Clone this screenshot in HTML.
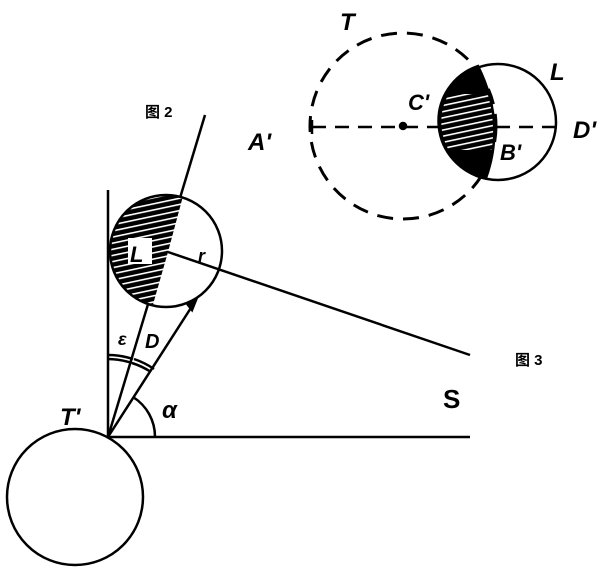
<!DOCTYPE html>
<html><head><style>
body{margin:0;background:#fff;}
svg{display:block}
text{font-family:"Liberation Sans","Noto Sans CJK SC",sans-serif;font-style:italic;font-weight:bold;fill:#000}
.cj{font-style:normal;font-weight:bold}
</style></head><body>
<svg width="607" height="570" viewBox="0 0 607 570" xmlns="http://www.w3.org/2000/svg">
<defs>
<pattern id="h" width="8" height="6" patternUnits="userSpaceOnUse" patternTransform="rotate(-12)">
<rect width="8" height="6" fill="#000"/><rect y="2.5" width="8" height="1.6" fill="#fff"/>
</pattern>
<clipPath id="lc"><circle cx="166" cy="251" r="56"/></clipPath>
<clipPath id="lc2"><path d="M478,66 A58,58 0 0 0 486,178 Q506,122 478,66 Z"/></clipPath>
</defs>
<g stroke="#000" stroke-width="2.5" fill="none">
<!-- fig 2 -->
<circle cx="75" cy="497" r="68"/>
<line x1="108" y1="437" x2="108" y2="190"/>
<line x1="108" y1="437" x2="470" y2="437"/>
<line x1="108" y1="437" x2="205" y2="115"/>
<line x1="108" y1="437" x2="196" y2="300"/>
<line x1="168" y1="252" x2="470" y2="355"/>
<polygon points="108,170 190,170 168,252 140,350 100,350" fill="url(#h)" stroke="none" clip-path="url(#lc)"/>
<rect x="128" y="238" width="24" height="26" fill="#fff" stroke="none"/>
<circle cx="166" cy="251" r="56"/>
<path d="M108,355 A82,82 0 0 1 133,359"/>
<path d="M108,359 A78,78 0 0 1 132,363"/>
<path d="M134,359 A82,82 0 0 1 154,369"/>
<path d="M132,363 A78,78 0 0 1 151,372"/>
<path d="M155,437 A47,47 0 0 0 133,397"/>
<polygon points="196,300 188,305 192,310" fill="#000"/>
<!-- fig 3 -->
<circle cx="403" cy="126" r="93" stroke-dasharray="16,10" stroke-width="3"/>
<line x1="312" y1="127" x2="557" y2="127" stroke-dasharray="14,9"/>
<path d="M478,66 A58,58 0 0 0 486,178 Q506,122 478,66 Z" fill="url(#h)"/>
<g clip-path="url(#lc2)" stroke="none" fill="#000">
<rect x="430" y="60" width="80" height="34"/>
<rect x="430" y="150" width="80" height="35"/>
</g>
<circle cx="498" cy="122" r="58"/>
<circle cx="403" cy="126" r="3" fill="#000"/>
<line x1="312" y1="120" x2="312" y2="134"/>
</g>
<text x="130" y="262" font-size="22">L</text>
<text x="60" y="425" font-size="24">T'</text>
<text x="198" y="262" font-size="18">r</text>
<text x="118" y="345" font-size="18">ε</text>
<text x="145" y="348" font-size="20">D</text>
<text x="162" y="418" font-size="24">α</text>
<text x="443" y="408" font-size="26" style="font-style:normal">S</text>
<text x="145" y="117" font-size="15" class="cj">图 2</text>
<text x="515" y="365" font-size="15" class="cj">图 3</text>
<text x="340" y="30" font-size="24">T</text>
<text x="408" y="110" font-size="22">C'</text>
<text x="248" y="150" font-size="24">A'</text>
<text x="550" y="80" font-size="24">L</text>
<text x="573" y="138" font-size="24">D'</text>
<text x="500" y="160" font-size="22">B'</text>
</svg>
</body></html>
